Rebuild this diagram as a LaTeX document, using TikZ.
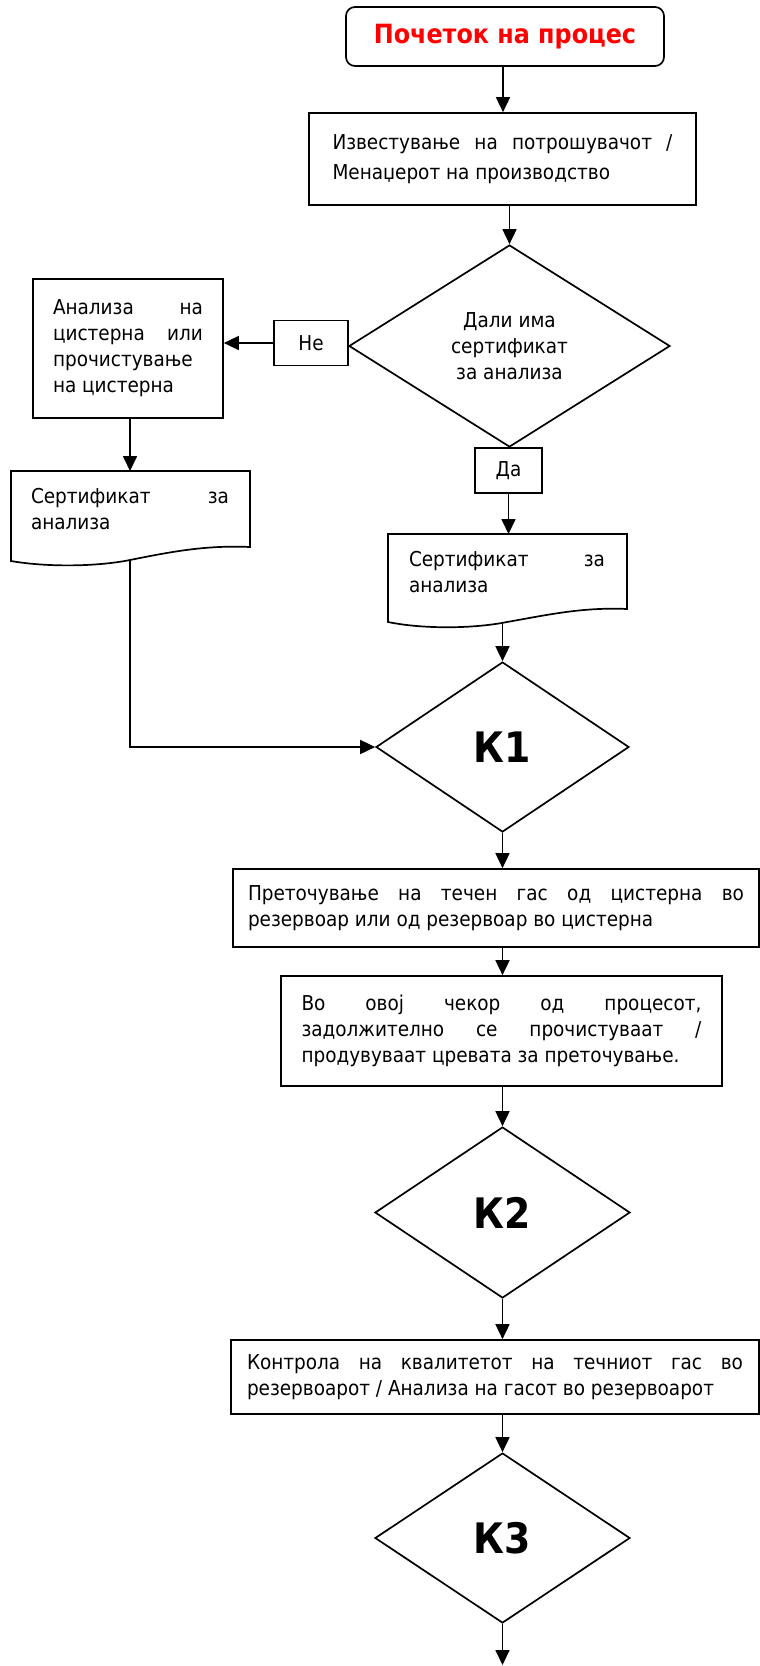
\documentclass[tikz,border=0pt]{standalone}
\usepackage{fontspec}
\setmainfont{DejaVu Sans Condensed}
\usetikzlibrary{shapes.geometric,arrows.meta}
\hyphenpenalty=10000
\tolerance=10000
\newcommand\bodyfont{\fontsize{20.5}{26}\selectfont}
\newcommand\infofont{\fontsize{20.5}{30}\selectfont}
\newcommand\startfont{\fontsize{26.5}{30}\selectfont\bfseries}
\newcommand\kfont{\fontsize{42}{46}\selectfont\bfseries}
\begin{document}
\begin{tikzpicture}[x=1pt,y=-1pt,
  lw/.style={line width=1.7pt},
  arr/.style={line width=1.7pt,-{Triangle[length=15pt,width=14pt]}},
  box/.style={draw,line width=1.7pt,inner sep=0pt,font=\bodyfont},
  jbox/.style={box,align=justify},
  kdia/.style={diamond,draw,line width=1.7pt,inner sep=0pt,font=\kfont},
  doctext/.style={inner sep=0pt,font=\bodyfont,align=justify}]
\useasboundingbox (0,0) rectangle (760,1666);

% start
\node[box,rounded corners=9pt,minimum width=318pt,minimum height=59pt,font=\startfont,text=red] (start) at (505,36.5) {Почеток на процес};
% inform
\node[jbox,minimum width=387pt,minimum height=92pt,text width=340pt,font=\infofont] (inform) at (502.5,159) {Известување на потрошувачот /\linebreak Менаџерот на производство};
% decision
\node[diamond,draw,line width=1.7pt,inner sep=0pt,minimum width=321pt,minimum height=202pt,align=center,font=\bodyfont] (dia1) at (509.5,346) {Дали има\\сертификат\\за анализа};
% Ne
\node[box,minimum width=74pt,minimum height=45pt] (ne) at (311,343) {Не};
% analysis box
\node[jbox,minimum width=190pt,minimum height=139pt,text width=150pt] (an) at (128,348.5) {Анализа на\linebreak цистерна или\linebreak прочистување\linebreak на цистерна};
% Da
\node[box,minimum width=67pt,minimum height=45pt] (da) at (508.5,470.5) {Да};

% left document
\draw[lw] (11,471) -- (250,471) -- (250,547) .. controls (205,545) and (170,552) .. (130,560) .. controls (95,567) and (45,567) .. (11,561) -- cycle;
\coordinate (ldoctop) at (130,471);
\coordinate (ldocbot) at (130,560);
\node[doctext,text width=198pt] (ldoc) at (130,509) {Сертификат за\linebreak анализа};

% right document
\draw[lw] (388,534) -- (627,534) -- (627,609) .. controls (582,607) and (547,615) .. (507,622) .. controls (472,629) and (422,629) .. (388,622) -- cycle;
\coordinate (rdoctop) at (508.5,534);
\coordinate (rdocbot) at (502.5,623);
\node[doctext,text width=196pt] (rdoc) at (507,572) {Сертификат за\linebreak анализа};

% K1
\node[kdia,minimum width=253pt,minimum height=170pt] (k1) at (502.5,747) {К1};
% transfer
\node[jbox,minimum width=526pt,minimum height=78pt,text width=496pt] (b3) at (496,908) {Преточување на течен гас од цистерна во\linebreak резервоар или од резервоар во цистерна};
% purge
\node[jbox,minimum width=441pt,minimum height=110pt,text width=400pt] (b4) at (501.5,1031) {Во овој чекор од процесот,\linebreak задолжително се прочистуваат /\linebreak продувуваат цревата за преточување.};
% K2
\node[kdia,minimum width=255pt,minimum height=171pt] (k2) at (502.5,1212.5) {К2};
% control
\node[jbox,minimum width=528pt,minimum height=74pt,text width=496pt] (b5) at (495,1377) {Контрола на квалитетот на течниот гас во\linebreak резервоарот / Анализа на гасот во резервоарот};
% K3
\node[kdia,minimum width=255pt,minimum height=170pt] (k3) at (502.5,1538) {К3};
\coordinate (endpt) at (502.5,1665);

% connectors
\draw[arr] (start.south -| 503,0) -- (503,0 |- inform.north);
\draw[arr] (dia1.north |- inform.south) -- (dia1.north);
\draw[arr] (ne.west) -- (ne.west -| an.east);
\draw[arr] (ldoctop |- an.south) -- (ldoctop);
\draw[arr] (da.south) -- (rdoctop);
\draw[arr] (ldocbot) |- (k1.west);
\draw[arr] (rdocbot) -- (k1.north);
\draw[arr] (k1.south) -- (k1.south |- b3.north);
\draw[arr] (k1.south |- b3.south) -- (k1.south |- b4.north);
\draw[arr] (k2.north |- b4.south) -- (k2.north);
\draw[arr] (k2.south) -- (k2.south |- b5.north);
\draw[arr] (k3.north |- b5.south) -- (k3.north);
\draw[arr] (k3.south) -- (endpt);
\end{tikzpicture}
\end{document}
